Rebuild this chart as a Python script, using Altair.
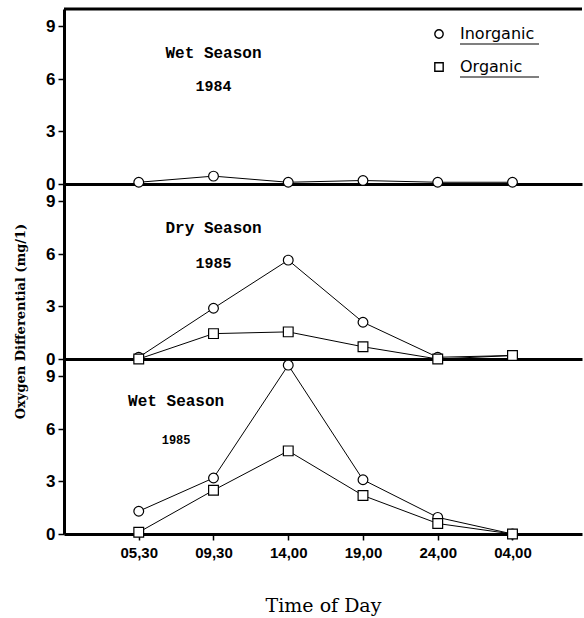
import json
import altair as alt
import pandas as pd

# ---------------- data ----------------
times = ["05,30", "09,30", "14,00", "19,00", "24,00", "04,00"]
series_names = ["Inorganic", "Organic"]

inorg_wet84 = [0.1, 0.45, 0.1, 0.2, 0.1, 0.1]
inorg_dry85 = [0.1, 2.9, 5.65, 2.1, 0.1, 0.2]
org_dry85 = [0.0, 1.45, 1.55, 0.7, 0.0, 0.2]
inorg_wet85 = [1.3, 3.2, 9.65, 3.1, 0.95, 0.0]
org_wet85 = [0.1, 2.5, 4.75, 2.2, 0.6, 0.0]

panel_season = ["Wet Season", "Dry Season", "Wet Season"]
panel_year = ["1984", "1985", "1985"]
y_ticks = [0, 3, 6, 9]

rows = []
for p, ser, vals in [
    (0, "Inorganic", inorg_wet84),
    (1, "Inorganic", inorg_dry85),
    (1, "Organic", org_dry85),
    (2, "Inorganic", inorg_wet85),
    (2, "Organic", org_wet85),
]:
    for i, v in enumerate(vals):
        rows.append({"panel": p, "t": i, "series": ser, "value": v})
df = pd.DataFrame(rows)

# annotation anchors (data coordinates: x = time index, y = value)
ann_x = [1.0, 1.0, 0.5]
ann_y_season = [7.5, 7.5, 7.6]
ann_y_year = [5.6, 5.5, 5.4]

W, H = 518, 175
label_expr = json.dumps(times) + "[datum.value]"

xscale = alt.Scale(domain=[-1, 5.93], nice=False, zero=False)
yscale = alt.Scale(domain=[0, 10], nice=False)
shape_scale = alt.Scale(domain=series_names, range=["circle", "square"])


def yaxis(title=None):
    kw = dict(
        values=y_ticks, domainWidth=3, domainColor="black", tickColor="black",
        tickSize=6, tickWidth=1.5, labelFont="Liberation Sans", labelFontSize=17,
        labelFontWeight="bold", labelColor="black", labelPadding=3, grid=False,
        labelOverlap=False,
    )
    if title:
        kw.update(title=title, titleFont="DejaVu Serif", titleFontSize=13,
                  titleFontWeight="bold", titleColor="black", titleAngle=-90,
                  titleX=-44, titleY=137, titleAlign="center", titleBaseline="middle")
    else:
        kw.update(title=None)
    return alt.Axis(**kw)


def xaxis_for(p):
    if p == 2:
        return alt.Axis(values=list(range(6)), labelExpr=label_expr, title="Time of Day",
                        domainWidth=3, domainColor="black", tickColor="black", tickSize=6,
                        tickWidth=1.5, labelFont="Liberation Sans", labelFontSize=15,
                        labelFontWeight="bold", labelColor="black", labelPadding=5,
                        titleFont="DejaVu Serif", titleFontSize=19, titleFontWeight="normal",
                        titleColor="black", titlePadding=36, grid=False)
    return alt.Axis(values=list(range(6)), labels=False, ticks=False, title=None,
                    domainWidth=3, domainColor="black", grid=False)


def panel(p):
    d = df[df["panel"] == p]
    x = alt.X("t:Q", scale=xscale, axis=xaxis_for(p))
    y = alt.Y("value:Q", scale=yscale,
              axis=yaxis("Oxygen Differential (mg/1)" if p == 1 else None))

    base = alt.Chart(d)
    lines = base.mark_line(color="black", strokeWidth=1).encode(x=x, y=y, detail="series:N")
    layers = [lines]
    if p == 0:
        top = alt.Chart(pd.DataFrame({"value": [10]})).mark_rule(
            color="black", strokeWidth=3).encode(y=y)
        layers.append(top)

    shape = alt.Shape("series:N", scale=shape_scale, legend=None)
    pts = base.mark_point(fill="white", stroke="black", strokeWidth=1.2, size=95,
                          opacity=1).encode(x=x, y=y, shape=shape)

    ann = pd.DataFrame({"t": [ann_x[p]], "value": [ann_y_season[p]], "s": [panel_season[p]]})
    ann2 = pd.DataFrame({"t": [ann_x[p]], "value": [ann_y_year[p]], "s": [panel_year[p]]})
    tseason = alt.Chart(ann).mark_text(font="Liberation Mono", fontWeight="bold", fontSize=16,
                                        color="black").encode(x=x, y=y, text="s:N")
    tyear = alt.Chart(ann2).mark_text(font="Liberation Mono", fontWeight="bold",
                                       fontSize=12 if p == 2 else 15,
                                       color="black").encode(x=x, y=y, text="s:N")
    layers += [pts, tseason, tyear]

    if p == 0:
        one = pd.DataFrame({"a": [0]})
        # manual legend (symbols, labels, underlines)
        for k, (name, shp) in enumerate(zip(series_names, ["circle", "square"])):
            yy = 25 + 33 * k
            layers.append(alt.Chart(one).mark_point(shape=shp, size=70, fill="white",
                                                    stroke="black", strokeWidth=1.4,
                                                    opacity=1).encode(
                x=alt.value(375), y=alt.value(yy)))
            layers.append(alt.Chart(one).mark_text(text=name, font="DejaVu Sans", fontSize=16,
                                                   fontWeight=500, align="left",
                                                   baseline="middle", color="black").encode(
                x=alt.value(396), y=alt.value(yy)))
            layers.append(alt.Chart(one).mark_rule(color="black", strokeWidth=1.2).encode(
                x=alt.value(396), x2=alt.value(475), y=alt.value(yy + 10)))
    return alt.layer(*layers).properties(width=W, height=H)


chart = alt.vconcat(panel(0), panel(1), panel(2), spacing=0, bounds="flush").properties(
    padding={"left": 14, "top": 7, "right": 0, "bottom": 5},
    background="white",
).configure_view(stroke=None)

chart.save("out.html", embed_options={"renderer": "svg", "actions": False})
